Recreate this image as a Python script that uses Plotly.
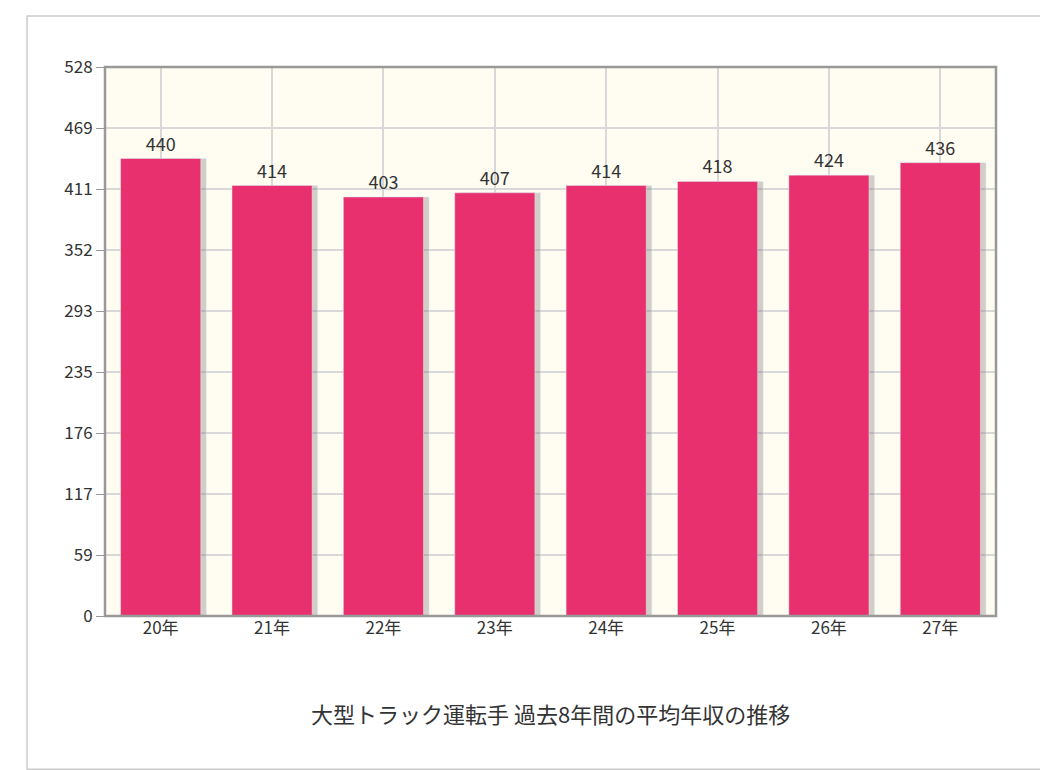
import plotly.graph_objects as go

years = ["20年", "21年", "22年", "23年", "24年", "25年", "26年", "27年"]
income = [440, 414, 403, 407, 414, 418, 424, 436]
tick_labels = ["0", "59", "117", "176", "235", "293", "352", "411", "469", "528"]
tick_vals = [i * 528 / 9 for i in range(10)]

fig = go.Figure()
# soft shadow behind each bar
fig.add_trace(go.Bar(x=years, y=income, marker_color="rgba(120,120,120,0.35)",
                     width=0.72, offset=-0.31, hoverinfo="skip", showlegend=False))
fig.add_trace(go.Bar(x=years, y=income, marker_color="#E8306E", width=0.72, offset=-0.36,
                     text=[str(v) for v in income], textposition="outside",
                     textfont=dict(size=18, color="#333"), cliponaxis=False, showlegend=False))

fig.update_layout(
    width=1048, height=770,
    margin=dict(l=97, r=60, t=59, b=162),
    paper_bgcolor="white", plot_bgcolor="#FFFCF2",
    barmode="overlay", bargap=0.28,
    font=dict(family="Noto Sans CJK JP, sans-serif", color="#333"),
    annotations=[dict(text="大型トラック運転手 過去8年間の平均年収の推移", xref="paper", yref="paper",
                      x=0.5, y=-0.177, showarrow=False, font=dict(size=22, color="#333"),
                      xanchor="center", yanchor="middle")],
    shapes=[
        dict(type="rect", xref="paper", yref="paper", x0=-0.0875, x1=1.0585, y0=-0.279, y1=1.093,
             line=dict(color="#CCCCCC", width=1.5)),
        dict(type="rect", xref="paper", yref="paper", x0=0, x1=1, y0=0, y1=1,
             line=dict(color="#999999", width=2.5), layer="above"),
    ],
)
fig.update_yaxes(range=[0, 528], tickvals=tick_vals, ticktext=tick_labels, showgrid=True,
                 gridcolor="#D8D8D8", gridwidth=1.5, ticks="outside", ticklen=8, tickcolor="#999",
                 tickfont=dict(size=17, color="#333"), zeroline=False, showline=False)
fig.update_xaxes(showgrid=True, gridcolor="#D8D8D8", gridwidth=1.5, tickfont=dict(size=17, color="#333"),
                 ticks="", showline=False)
fig.update_xaxes(ticklabelshift=0)

fig.write_html("out.html")
